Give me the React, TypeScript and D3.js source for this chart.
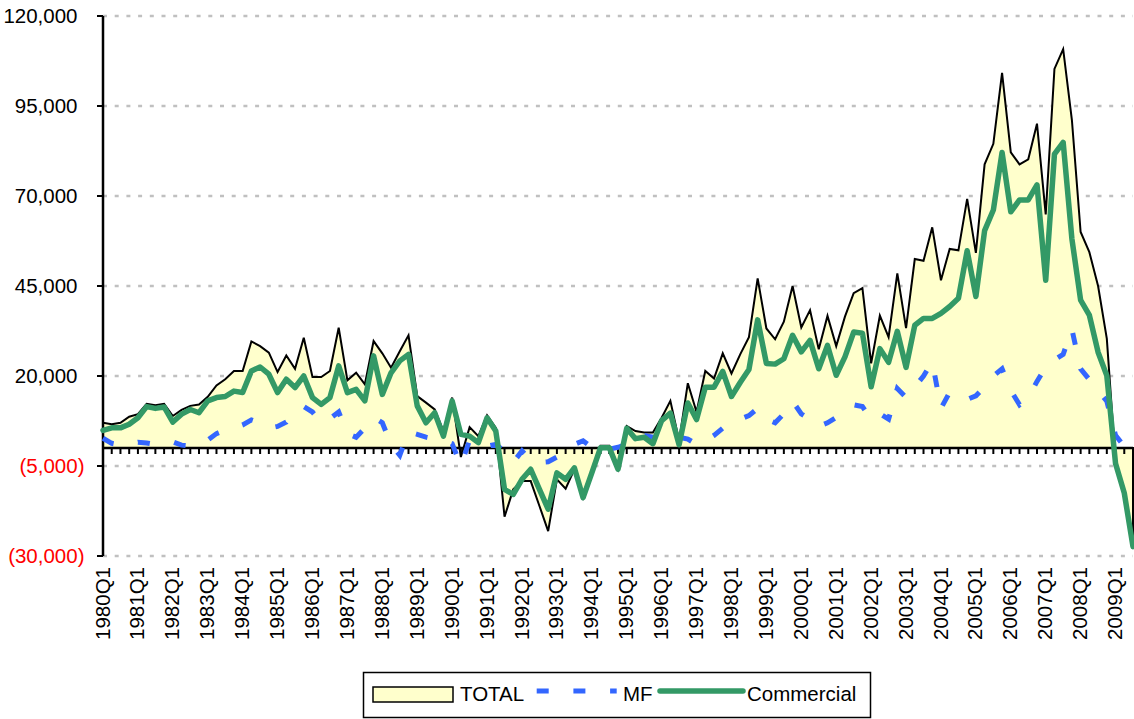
import * as d3 from 'd3'

// quarterly series, in units (1980Q1 .. 2009Q3)
const years = d3.range(1980, 2010)
const quarters = years.flatMap(yr => [1, 2, 3, 4].map(q => `${yr}Q${q}`)).slice(0, 119)

const total = [
  7000, 6600, 7000, 8700, 9400, 12300, 11900, 12300, 8900, 10600,
  11700, 12100, 14200, 17400, 19100, 21400, 21400, 29600, 28300, 26500,
  21100, 25700, 22000, 30600, 19700, 19700, 21400, 33400, 18800, 20900,
  17700, 29700, 26300, 22300, 26900, 31300, 14400, 12600, 10700, 4700,
  14000, -2500, 5800, 3300, 9100, 5600, -19100, -11500, -9200, -9200,
  -16100, -23100, -8700, -11300, -5900, -13800, -6900, 600, 600, -5900,
  6100, 4700, 4300, 4300, 8400, 13100, 2000, 18000, 10000, 21400,
  19300, 26300, 20700, 26000, 30800, 47100, 33200, 30200, 35100, 45000,
  33500, 38300, 27400, 36700, 28300, 36500, 43000, 44400, 23500, 36800,
  30800, 48500, 33300, 52500, 52000, 61300, 46600, 55300, 54900, 69200,
  54200, 78800, 84500, 104200, 82100, 78800, 80200, 90100, 64900, 105300,
  110800, 91100, 60000, 54400, 45000, 30400, -4000, -12800, -27800,
]

const mf = [
  2700, 1300, 800, 1000, 1600, 1400, 1000, 1200, 1700, 800,
  600, 1000, 2200, 4000, 5000, 5500, 6400, 7800, 7000, 5500,
  6000, 7200, 10500, 11500, 10000, 7000, 8200, 10000, 4000, 3000,
  5500, 8500, 7000, 1000, -2000, 4500, 3800, 3000, 2500, 2000,
  1200, -4900, 2200, 1500, 500, 1000, -1000, -4000, -800, -3500,
  -4000, -3800, -2500, -500, 1000, 2000, 200, -500, -300, 200,
  1000, 2000, 3500, 3000, 2500, 3200, 3000, 2500, 1000, 2000,
  3500, 5500, 6500, 8000, 9000, 11000, 8000, 7000, 9500, 13000,
  9500, 8000, 6000, 7000, 8500, 11000, 12000, 11500, 8000, 9500,
  8000, 16500, 14000, 17000, 20000, 24000, 11000, 15500, 14300, 13500,
  14500, 17000, 20000, 22000, 16000, 12000, 14000, 18500, 22500, 24500,
  26000, 33000, 22000, 19000, 16000, 13000, 3500, 500, -1200,
]

const commercial = [
  4900, 5600, 5600, 6600, 8400, 11500, 11000, 11400, 7200, 9400,
  10700, 9800, 13100, 14000, 14300, 15800, 15400, 21400, 22500, 20500,
  15400, 19100, 16800, 20000, 14000, 12100, 14000, 22800, 15400, 16300,
  13100, 25600, 14900, 20900, 24200, 26000, 11700, 7000, 9800, 3300,
  13100, 3800, 3300, 1500, 8400, 4700, -11500, -12900, -8700, -5900,
  -11500, -17000, -6900, -8700, -5500, -13800, -6900, 100, 100, -5900,
  5500, 2600, 3000, 1200, 7600, 9700, 900, 12500, 7900, 16900,
  16900, 21300, 14300, 18200, 21800, 35600, 23500, 23300, 24800, 31300,
  26700, 29900, 22000, 28500, 20200, 25300, 32200, 31900, 17000, 27600,
  23800, 32400, 22400, 34100, 36000, 36000, 37400, 39300, 41600, 54800,
  42100, 60400, 66100, 82100, 65600, 68900, 68900, 73100, 46600, 81600,
  84900, 58100, 41100, 36900, 26600, 20100, -4300, -12500, -27400,
]

const yTicks = [-30000, -5000, 20000, 45000, 70000, 95000, 120000]
const xLabels = quarters.filter(q => q.endsWith('Q1'))

const FONT = '"Liberation Sans", Arial, sans-serif'
const FS = 20.5

export default function App() {
  const width = 1134
  const height = 719
  const left = 103, right = 1133, top = 16, bottom = 556

  const x = d3.scalePoint<string>().domain(quarters).range([left, right])
  const y = d3.scaleLinear().domain([-30000, 120000]).range([bottom, top])
  const fmt = d3.format(',')

  const area = d3.area<number>()
    .x((_, i) => x(quarters[i])!)
    .y0(y(0))
    .y1(d => y(d))

  const line = d3.line<number>()
    .x((_, i) => x(quarters[i])!)
    .y(d => y(d))

  return (
    <svg width={width} height={height} style={{ position: 'absolute', left: 0, top: 0 }}
      fontFamily={FONT}>
      <rect width={width} height={height} fill="#fff" />

      {/* gridlines */}
      {yTicks.map(t => (
        <line key={t} x1={left} x2={right} y1={y(t)} y2={y(t)}
          stroke="#c0c0c0" strokeWidth={2.5} strokeDasharray="4 7.7" />
      ))}

      {/* TOTAL area */}
      <path d={area(total)!} fill="#ffffcc" stroke="#000" strokeWidth={2} strokeLinejoin="miter" />

      {/* x axis at zero */}
      <line x1={left} x2={right} y1={y(0)} y2={y(0)} stroke="#000" strokeWidth={2.5} />
      {quarters.map(q => (
        <line key={q} x1={x(q)} x2={x(q)} y1={y(0)} y2={y(0) + 6} stroke="#000" strokeWidth={2} />
      ))}

      {/* y axis */}
      <line x1={left} x2={left} y1={top} y2={bottom} stroke="#000" strokeWidth={2.5} />
      {yTicks.map(t => (
        <g key={t}>
          <line x1={left - 6} x2={left} y1={y(t)} y2={y(t)} stroke="#000" strokeWidth={2} />
          <text x={t < 0 ? 84.5 : 77.5} y={y(t)} dy="0.35em" textAnchor="end" fontSize={FS}
            fill={t < 0 ? '#ff0000' : '#000'}>
            {t < 0 ? `(${fmt(-t)})` : fmt(t)}
          </text>
        </g>
      ))}

      {/* category labels */}
      {xLabels.map(q => (
        <text key={q} transform={`translate(${x(q)},567) rotate(-90)`} dy="0.32em"
          textAnchor="end" fontSize={FS} fill="#000">{q}</text>
      ))}

      {/* MF */}
      <path d={line(mf)!} fill="none" stroke="#3366ff" strokeWidth={5} strokeDasharray="12 24.7" />

      {/* Commercial */}
      <path d={line(commercial)!} fill="none" stroke="#339966" strokeWidth={5.5}
        strokeLinejoin="round" strokeLinecap="round" />

      {/* legend */}
      <g>
        <rect x={363.5} y={672.5} width={507} height={45} fill="#fff" stroke="#000" strokeWidth={1.5} />
        <rect x={373} y={687} width={80} height={15} fill="#ffffcc" stroke="#000" strokeWidth={1.5} />
        <text x={460} y={701} fontSize={FS}>TOTAL</text>
        <line x1={536.7} x2={616.7} y1={691} y2={691} stroke="#3366ff" strokeWidth={5} strokeDasharray="12 24.7" />
        <text x={623} y={701} fontSize={FS}>MF</text>
        <line x1={660} x2={743} y1={691} y2={691} stroke="#339966" strokeWidth={5.5} strokeLinecap="round" />
        <text x={747} y={701} fontSize={FS}>Commercial</text>
      </g>
    </svg>
  )
}
